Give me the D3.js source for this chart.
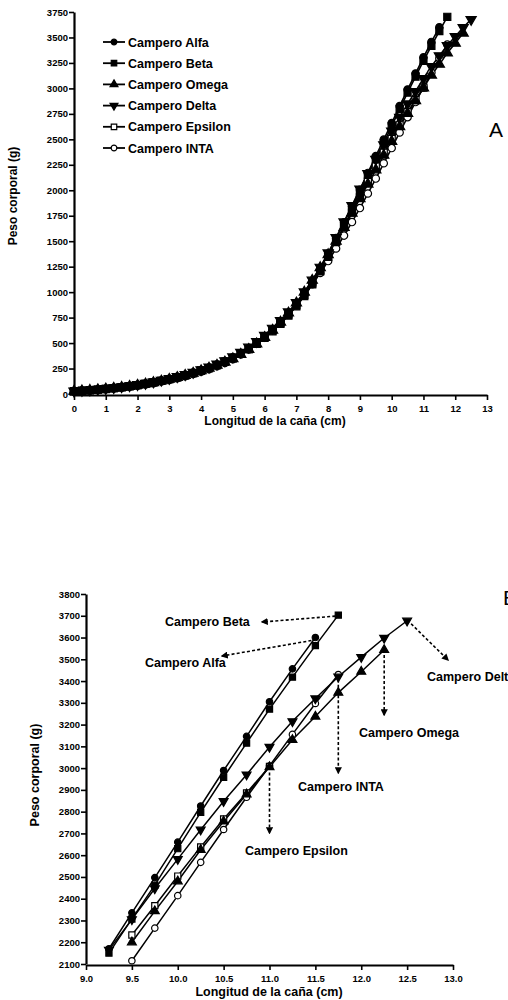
<!DOCTYPE html>
<html><head><meta charset="utf-8">
<script src="https://cdn.jsdelivr.net/npm/d3@7"></script>
<style>
body{margin:0;background:#fff}
svg{display:block}
text{font-family:"Liberation Sans",Arial,sans-serif;fill:#000}
</style>
</head><body>
<svg id="c" width="508" height="1000"></svg>
<script>
// ---------- DATA ----------
const lengths = [0,0.25,0.5,0.75,1,1.25,1.5,1.75,2,2.25,2.5,2.75,3,3.25,3.5,3.75,4,4.25,4.5,4.75,5,5.25,5.5,5.75,6,6.25,6.5,6.75,7,7.25,7.5,7.75,8,8.25,8.5,8.75,9,9.25,9.5,9.75,10,10.25,10.5,10.75,11,11.25,11.5,11.75,12,12.25,12.5];
const seriesNames = ["Campero Alfa","Campero Beta","Campero Omega","Campero Delta","Campero Epsilon","Campero INTA"];
const alfa = [28,33,38,45,52,60,69,79,90,103,117,133,150,169,189,211,235,261,290,323,360,403,451,504,564,631,706,789,882,986,1102,1232,1380,1530,1685,1843,2005,2170,2335,2497,2660,2826,2989,3146,3305,3456,3600];
const beta = [27,32,37,44,51,58,67,77,88,100,114,129,146,164,184,206,229,255,283,315,351,393,440,492,551,616,689,770,861,962,1076,1203,1347,1495,1647,1807,1975,2150,2307,2462,2630,2797,2958,3115,3271,3418,3563,3703];
const omega = [27,31,36,42,49,56,65,75,86,98,112,127,144,162,182,204,228,254,282,313,346,389,437,492,555,626,706,795,893,1000,1116,1240,1368,1500,1636,1776,1918,2060,2200,2343,2480,2625,2755,2880,3005,3130,3237,3347,3443,3543];
const delta = [30,35,40,47,54,62,71,81,92,105,119,135,152,171,191,213,238,264,293,327,365,410,460,515,577,646,722,806,898,1003,1118,1245,1385,1535,1690,1850,2012,2165,2305,2447,2582,2717,2848,2970,3097,3215,3320,3420,3510,3598,3677];
const epsilon = [26,31,36,42,49,57,66,76,87,99,113,128,145,163,183,205,229,255,284,316,352,393,441,497,560,626,700,782,873,973,1085,1212,1350,1492,1635,1780,1930,2085,2233,2368,2504,2638,2766,2886,3008];
const inta = [25,29,34,40,47,54,62,71,82,94,107,122,138,156,175,196,219,244,272,305,342,387,438,495,558,628,705,788,878,975,1078,1188,1305,1428,1555,1688,1825,1968,2115,2265,2414,2567,2718,2866,3010,3155,3297,3430];
const seriesValues = [alfa, beta, omega, delta, epsilon, inta];

const xTicksA = [0,1,2,3,4,5,6,7,8,9,10,11,12,13];
const yTicksA = [0,250,500,750,1000,1250,1500,1750,2000,2250,2500,2750,3000,3250,3500,3750];
const xTicksB = [9.0,9.5,10.0,10.5,11.0,11.5,12.0,12.5,13.0];
const yTicksB = [2100,2200,2300,2400,2500,2600,2700,2800,2900,3000,3100,3200,3300,3400,3500,3600,3700,3800];
const xTitle = "Longitud de la caña (cm)";
const yTitle = "Peso corporal (g)";

// ---------- STYLE ----------
const symbolDefs = [
  {type:d3.symbolCircle, fill:"#000", rot:0},
  {type:d3.symbolSquare, fill:"#000", rot:0},
  {type:d3.symbolTriangle, fill:"#000", rot:0},
  {type:d3.symbolTriangle, fill:"#000", rot:180},
  {type:d3.symbolSquare, fill:"#fff", rot:0},
  {type:d3.symbolCircle, fill:"#fff", rot:0}
];
const drawOrder = [5,4,2,3,0,1];

const svg = d3.select("#c");
const series = seriesNames.map((n,i)=>({name:n, i, pts: seriesValues[i].map((v,k)=>({x:lengths[k], y:v}))}));

function sizeFor(i, s){ return symbolDefs[i].type===d3.symbolCircle ? s*0.85 : (symbolDefs[i].type===d3.symbolTriangle ? s*0.9 : s); }

function drawMarker(g, i, x, y, s){
  const d = symbolDefs[i];
  g.append("path").attr("d", d3.symbol(d.type, sizeFor(i,s))())
    .attr("transform", `translate(${x},${y}) rotate(${d.rot})`)
    .attr("fill", d.fill).attr("stroke", "#000").attr("stroke-width", 1.2);
}

function drawChart(cfg){
  const g = svg.append("g");
  const x = d3.scaleLinear().domain(cfg.xd).range(cfg.xr);
  const y = d3.scaleLinear().domain(cfg.yd).range(cfg.yr);
  drawOrder.forEach(i=>{
    const s = series[i];
    const pts = s.pts.filter(p=>p.x>=cfg.xd[0] && p.y>=cfg.yd[0]);
    g.append("path").datum(pts)
      .attr("d", d3.line().x(p=>x(p.x)).y(p=>y(p.y)))
      .attr("fill","none").attr("stroke","#000").attr("stroke-width",cfg.lw);
  });
  drawOrder.forEach(i=>{
    const s = series[i];
    const pts = s.pts.filter(p=>p.x>=cfg.xd[0] && p.y>=cfg.yd[0]);
    pts.forEach(p=>drawMarker(g, i, x(p.x), y(p.y), cfg.ms));
  });
  const ax = g.append("g").attr("transform",`translate(0,${cfg.yr[0]+1})`)
    .call(d3.axisBottom(x).tickValues(cfg.xt).tickSize(5).tickSizeOuter(0).tickFormat(cfg.xf));
  const ay = g.append("g").attr("transform",`translate(${cfg.xr[0]},0)`)
    .call(d3.axisLeft(y).tickValues(cfg.yt).tickSize(5).tickSizeOuter(0).tickFormat(d3.format("d")));
  [ax,ay].forEach(a=>{
    a.select(".domain").attr("stroke","#000").attr("stroke-width",2.2);
    a.selectAll(".tick line").attr("stroke","#000").attr("stroke-width",1.6);
    a.selectAll(".tick text").attr("font-size",cfg.tf).attr("font-weight","bold")
      .attr("font-family",'"Liberation Sans",Arial,sans-serif').attr("fill","#000");
  });
  ax.selectAll(".tick text").attr("dy","0.9em");
  ay.selectAll(".tick text").attr("x",-6);
  g.append("text").attr("x",cfg.xtx).attr("y",cfg.xty).attr("text-anchor","middle")
    .attr("font-size",cfg.titf).attr("font-weight","bold").text(xTitle);
  g.append("text").attr("transform",`translate(${cfg.ytx},${cfg.yty}) rotate(-90)`)
    .attr("text-anchor","middle").attr("font-size",cfg.titf).attr("font-weight","bold").text(yTitle);
  return {g,x,y};
}

// ---------- CHART A ----------
const A = drawChart({xd:[0,13], xr:[74,487], yd:[0,3750], yr:[394,12], xt:xTicksA, yt:yTicksA,
  xf:d3.format("d"), lw:1.6, ms:50, tf:9.5, titf:12, xtx:275, xty:425, ytx:17, yty:196});

const leg = svg.append("g");
seriesNames.forEach((n,i)=>{
  const yy = 42 + i*21.2;
  leg.append("line").attr("x1",103).attr("x2",125).attr("y1",yy).attr("y2",yy)
    .attr("stroke","#000").attr("stroke-width",1.8);
  drawMarker(leg, i, 114, yy, 30);
  leg.append("text").attr("x",128).attr("y",yy+4.5).attr("font-size",12.5)
    .attr("font-weight","bold").text(n);
});
svg.append("text").attr("x",489).attr("y",137).attr("font-size",21).text("A");

// ---------- CHART B ----------
const B = drawChart({xd:[9,13], xr:[86,453], yd:[2100,3800], yr:[964,594], xt:xTicksB, yt:yTicksB,
  xf:d3.format(".1f"), lw:1.5, ms:38, tf:9.5, titf:12.5, xtx:269, xty:996, ytx:39, yty:775});
svg.append("text").attr("x",503).attr("y",605).attr("font-size",21).text("B");

svg.append("defs").append("marker").attr("id","ah").attr("viewBox","0 0 10 10")
  .attr("refX",8).attr("refY",5).attr("markerWidth",4.5).attr("markerHeight",4.5)
  .attr("orient","auto").append("path").attr("d","M0,0L10,5L0,10Z").attr("fill","#000");
const notes = [
  {i:1, dx:-3, dy:1, tx:262, ty:622, lx:165, ly:626},
  {i:0, dx:-4, dy:3, tx:222, ty:656, lx:145, ly:667},
  {i:3, dx:4, dy:3, tx:448, ty:660, lx:427, ly:681},
  {i:2, dx:0, dy:5, tx:0, ty:715, lx:359, ly:737},
  {i:5, dx:0, dy:5, tx:0, ty:773, lx:298, ly:791},
  {i:4, dx:0, dy:6, tx:0, ty:833, lx:245, ly:855}
];
notes.forEach(nt=>{
  const s = series[nt.i]; const last = s.pts[s.pts.length-1];
  const x0 = B.x(last.x)+nt.dx, y0 = B.y(last.y)+nt.dy;
  const x1 = nt.tx===0 ? x0 : nt.tx;
  svg.append("line").attr("x1",x0).attr("y1",y0).attr("x2",x1).attr("y2",nt.ty)
    .attr("stroke","#000").attr("stroke-width",1.6).attr("stroke-dasharray","3,2.2")
    .attr("marker-end","url(#ah)");
  svg.append("text").attr("x",nt.lx).attr("y",nt.ly).attr("font-size",12.5)
    .attr("font-weight","bold").text(s.name);
});
</script>
</body></html>
